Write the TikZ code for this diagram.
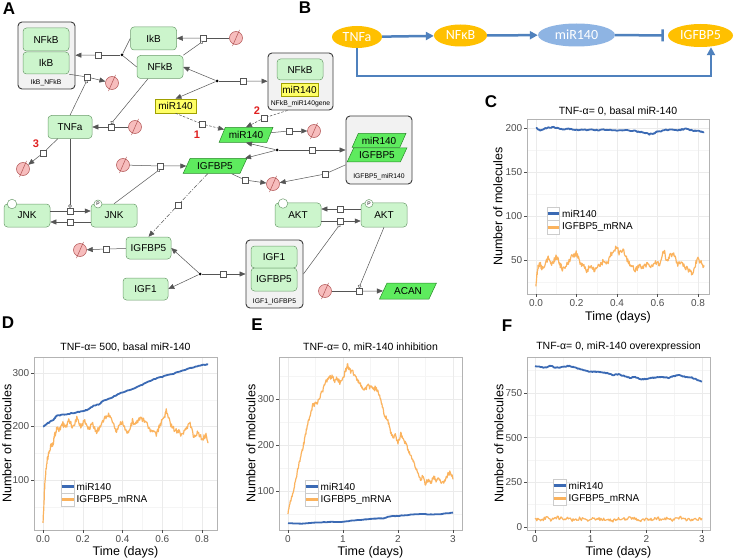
\documentclass[tikz,border=0pt]{standalone}
\usepackage{fontspec}
\setmainfont{Liberation Sans}
\newfontfamily\calib{Carlito}
\usetikzlibrary{arrows.meta,shapes.geometric,calc}
\definecolor{ngfill}{HTML}{CCF5CC}
\definecolor{ngdraw}{HTML}{6E9E6E}
\definecolor{cxfill}{HTML}{F2F2F2}
\definecolor{cxdraw}{HTML}{3C3C3C}
\definecolor{yfill}{HTML}{FFFF66}
\definecolor{ydraw}{HTML}{A0A000}
\definecolor{gfill}{HTML}{5EEB5E}
\definecolor{gdraw}{HTML}{2A8A2A}
\definecolor{degfill}{HTML}{F7BDBD}
\definecolor{degdraw}{HTML}{B05050}
\definecolor{lgray}{HTML}{555555}
\definecolor{borange}{HTML}{FFC000}
\definecolor{bblue}{HTML}{8EB4E3}
\definecolor{barr}{HTML}{4F81BD}
\definecolor{pblue}{HTML}{3B6AB4}
\definecolor{porange}{HTML}{FBB35E}
\definecolor{gridc}{HTML}{EBEBEB}
\definecolor{gridc2}{HTML}{F5F5F5}
\definecolor{framec}{HTML}{B3B3B3}
\definecolor{tickc}{HTML}{4D4D4D}
\definecolor{keyc}{HTML}{CCCCCC}
\definecolor{redl}{HTML}{E02020}
\newcommand\degr[2]{\node[degr] (#1) at (#2) {};
  \draw[degdraw, line width=0.5pt] ([shift={(-3.5,8)}]#1.center) -- ([shift={(3.5,-8)}]#1.center);}
\newcommand\noisy[5]{%
  \draw[#1] (#3,#4) \foreach \tA/\vA [remember=\tA as \tP (initially #3), remember=\vA as \vP (initially #4)] in {#5} {
    \foreach \kk in {1,2,3,4,5,6} { -- ({\tP+(\tA-\tP)*\kk/6},{\vP+(\vA-\vP)*\kk/6+#2*rand}) }
  };}
\begin{document}
\begin{tikzpicture}[x=1pt,y=-1pt,
  sp/.style={rounded corners=3.5pt, draw=ngdraw, fill=ngfill, minimum width=46pt, minimum height=23pt, inner sep=0pt, font=\fontsize{10}{10}\selectfont, line width=0.5pt},
  cx/.style={rounded corners=4pt, draw=cxdraw, fill=cxfill, line width=0.9pt, inner sep=0pt},
  cxl/.style={font=\fontsize{6.8}{7}\selectfont, inner sep=0pt},
  ym/.style={draw=ydraw, fill=yfill, minimum width=41pt, minimum height=14pt, inner sep=0pt, font=\fontsize{10}{10}\selectfont, line width=0.5pt},
  gs/.style={trapezium, trapezium left angle=55, trapezium right angle=125, trapezium stretches=true, draw=gdraw, fill=gfill, minimum width=54pt, minimum height=15pt, inner sep=0pt, font=\fontsize{10}{10}\selectfont, line width=0.5pt},
  proc/.style={draw=lgray, fill=white, minimum size=6pt, inner sep=0pt, line width=0.5pt},
  dotn/.style={circle, fill=black, minimum size=3pt, inner sep=0pt},
  degr/.style={circle, draw=degdraw, fill=degfill, minimum size=13pt, inner sep=0pt, line width=0.5pt},
  sv/.style={circle, draw=ngdraw, fill=white, minimum size=9.5pt, inner sep=0pt, line width=0.5pt},
  svp/.style={circle, draw=ngdraw, fill=white, minimum size=8pt, inner sep=0pt, line width=0.5pt, font=\fontsize{5}{5}\selectfont},
  fl/.style={draw=lgray, line width=0.5pt},
  fla/.style={fl, -{Triangle[length=6pt,width=5pt]}},
  cat/.style={fl, -{Circle[open, length=3.5pt, fill=white]}},
  dashA/.style={dash pattern=on 2.5pt off 1.5pt},
  dashB/.style={dash pattern=on 4pt off 1.5pt on 1pt off 1.5pt},
  rl/.style={text=redl, font=\bfseries\fontsize{11}{11}\selectfont, inner sep=0pt},
  plet/.style={font=\bfseries\fontsize{17}{17}\selectfont, inner sep=0pt},
  bell/.style={ellipse, draw=none, text=white, inner sep=0pt, font=\calib\fontsize{14}{14}\selectfont},
  barw/.style={draw=barr, line width=2.5pt, -{Triangle[length=8pt,width=8pt]}},
  gridM/.style={draw=gridc, line width=0.5pt},
  gridm/.style={draw=gridc2, line width=0.35pt},
  frm/.style={draw=framec, line width=0.6pt},
  tk/.style={draw=tickc, line width=0.5pt},
  tl/.style={font=\fontsize{10}{10}\selectfont, text=tickc, inner sep=0pt},
  ttl/.style={font=\fontsize{10.5}{11}\selectfont, inner sep=0pt},
  axt/.style={font=\fontsize{12.5}{13}\selectfont, inner sep=0pt},
  lgt/.style={font=\fontsize{10}{10}\selectfont, inner sep=0pt, anchor=west},
  lkey/.style={draw=keyc, line width=0.5pt, fill=white},
  cblue/.style={draw=pblue, line width=1.8pt, line join=round},
  corange/.style={draw=porange, line width=1.2pt, line join=round},
  lbl/.style={draw=pblue, line width=2.6pt},
  lor/.style={draw=porange, line width=2.6pt}
]
\useasboundingbox (0,0) rectangle (734,559);
\fill[white] (0,0) rectangle (734,559);
\pgfmathsetseed{4242}

% ---------------- panel letters
\node[plet] (lA) at (9,9) {A};
\node[plet] (lB) at (305,8) {B};
\node[plet] (lC) at (491,102) {C};
\node[plet] (lD) at (8,323) {D};
\node[plet] (lE) at (257,325) {E};
\node[plet] (lF) at (507,326) {F};

% ---------------- panel A nodes
\node[cx, minimum width=57pt, minimum height=67pt] (cx1) at (46.5,55.5) {};
\node[sp] (cx1N) at (46,39.5) {NFkB};
\node[sp, minimum height=22pt] (cx1I) at (46,63) {IkB};
\node[cxl] (cx1l) at (46,82.5) {IkB\_NFkB};

\node[sp] (IkB) at (153.5,38.5) {IkB};
\node[sp] (NFkB) at (160,67) {NFkB};
\node[sp, minimum width=44pt] (TNFa) at (70,127) {TNFa};

\node[cx, minimum width=65pt, minimum height=57pt] (cx2) at (300.5,81.5) {};
\node[sp, minimum height=21pt] (cx2N) at (300,69.5) {NFkB};
\node[ym, minimum width=37pt, minimum height=13pt] (cx2m) at (299.5,89.5) {miR140};
\node[cxl] (cx2l) at (300.5,103.5) {NFkB\_miR140gene};

\node[ym] (ymiR) at (175.5,106) {miR140};
\node[gs] (gmiR) at (246,135) {miR140};
\node[gs, minimum width=64pt] (gIGF) at (215,166) {IGFBP5};

\node[cx, minimum width=66pt, minimum height=68pt] (cx3) at (379,150) {};
\node[gs, minimum width=54pt, minimum height=14pt] (cx3m) at (379,140.5) {miR140};
\node[gs, minimum width=60pt, minimum height=14pt] (cx3i) at (377,155) {IGFBP5};
\node[cxl] (cx3l) at (379,177) {IGFBP5\_miR140};

\node[sp] (JNK) at (27,215.5) {JNK};
\node[sp] (JNKP) at (114,215.5) {JNK};
\node[sv] (JNKs) at (12,204) {};
\node[svp] (JNKPs) at (98,204) {P};
\node[sp, minimum width=45pt, minimum height=22pt] (IGBp) at (148.5,248) {IGFBP5};
\node[sp, minimum width=45pt, minimum height=22pt] (IGF1) at (145.5,289) {IGF1};

\node[cx, minimum width=57pt, minimum height=68pt] (cx4) at (274.5,274) {};
\node[sp, minimum height=22pt] (cx4a) at (274,257) {IGF1};
\node[sp, minimum height=23pt] (cx4b) at (274,279.5) {IGFBP5};
\node[cxl] (cx4l) at (274.5,301.5) {IGF1\_IGFBP5};

\node[sp, minimum height=24pt] (AKT) at (298,215) {AKT};
\node[sp, minimum height=24pt] (AKTP) at (384,215) {AKT};
\node[sv] (AKTs) at (283,203.5) {};
\node[svp] (AKTPs) at (369,203.5) {P};
\node[gs, minimum width=57pt, minimum height=16pt] (ACAN) at (408,291) {ACAN};

% degradation symbols
\degr{d1}{236,38}
\degr{d2}{112,83}
\degr{d3}{135,127}
\degr{d4}{23,169}
\degr{d5}{314,131}
\degr{d6}{123,165}
\degr{d7}{273,184}
\degr{d8}{80,250}
\degr{d9}{325,291}

% process nodes
\node[proc] (p1) at (203,38) {};
\node[proc] (p2) at (98,55) {};
\node[proc] (p3) at (87,77) {};
\node[proc] (p4) at (111,127) {};
\node[proc] (p5) at (43,153) {};
\node[proc] (p6) at (243,81) {};
\node[proc] (p7) at (202,124) {};
\node[proc] (p8) at (264,118) {};
\node[proc] (p9) at (289,131) {};
\node[proc] (p10) at (312,150) {};
\node[proc] (p11) at (160,166) {};
\node[proc] (p12) at (245,180) {};
\node[proc] (p13) at (325,174) {};
\node[proc] (p14) at (178,205) {};
\node[proc] (p15) at (70,211) {};
\node[proc] (p16) at (70,222) {};
\node[proc] (p17) at (106,249) {};
\node[proc] (p18) at (223,274) {};
\node[proc] (p19) at (340,209) {};
\node[proc] (p20) at (340,221) {};
\node[proc] (p21) at (359,291) {};
\node[dotn] (dot1) at (122,55) {};
\node[dotn] (dot2) at (217,81) {};
\node[dotn] (dot3) at (277,150) {};
\node[dotn] (dot4) at (200,274) {};

% connectors
\draw[fl] (d1) -- (p1); \draw[fla] (p1) -- (IkB);
\draw[cat] (NFkB.north east) -- (p1.south);
\draw[fl] (IkB.west) -- (dot1); \draw[fl] (NFkB.west) -- (dot1);
\draw[fl] (dot1) -- (p2); \draw[fla] (p2) -- (cx1);
\draw[fl] (cx1I.south east) -- (p3); \draw[fla] (p3) -- (d2);
\draw[cat] (TNFa.north) -- (p3.south);
\draw[fl] (d3) -- (p4); \draw[fla] (p4) -- (TNFa);
\draw[cat] ([xshift=-12pt]NFkB.south) -- (p4.north);
\draw[fl] (TNFa) -- (p5); \draw[fla] (p5) -- (d4);
\draw[fla] (dot2) -- (NFkB.east); \draw[fla] (dot2) -- (ymiR.north);
\draw[fl] (dot2) -- (p6); \draw[fla] (p6) -- (cx2);
\draw[fl, dashA] (ymiR.south) -- (p7); \draw[fla, dashA] (p7) -- (gmiR);
\draw[fl, dashA] ([xshift=-13pt]cx2.south) -- (p8); \draw[fla, dashA] (p8) -- (gmiR.north);
\draw[fl] (gmiR) -- (p9); \draw[fla] (p9) -- (d5);
\draw[fla] (dot3) -- (gmiR.south); \draw[fla] (dot3) -- (gIGF);
\draw[fl] (dot3) -- (p10); \draw[fla] (p10) -- (cx3);
\draw[fl] (d6) -- (p11); \draw[fla] (p11) -- (gIGF);
\draw[cat] (JNKP.north) -- (p11.south);
\draw[fl] (gIGF) -- (p12); \draw[fla] (p12) -- (d7);
\draw[fl] (cx3) -- (p13); \draw[fla] (p13) -- (d7);
\draw[fl, dashB] (gIGF) -- (p14); \draw[fla, dashB] (p14) -- (IGBp.north);
\draw[fl] (p15 -| JNK.east) -- (p15); \draw[fla] (p15) -- (p15 -| JNKP.west);
\draw[cat] (TNFa.south) -- (p15.north);
\draw[fl] (p16 -| JNKP.west) -- (p16); \draw[fla] (p16) -- (p16 -| JNK.east);
\draw[fl] (IGBp) -- (p17); \draw[fla] (p17) -- (d8);
\draw[fla] (dot4) -- (IGBp.east); \draw[fla] (dot4) -- (IGF1.east);
\draw[fl] (dot4) -- (p18); \draw[fla] (p18) -- (cx4);
\draw[fl] (p19 -| AKTP.west) -- (p19); \draw[fla] (p19) -- (p19 -| AKT.east);
\draw[fl] (p20 -| AKT.east) -- (p20); \draw[fla] (p20) -- (p20 -| AKTP.west);
\draw[cat] (cx4.east) -- (p20.south);
\draw[fl] (d9) -- (p21); \draw[fla] (p21) -- (ACAN);
\draw[cat] (AKTP.south) -- (p21.north);
\node[rl] (n1) at (197,135) {1};
\node[rl] (n2) at (257,111) {2};
\node[rl] (n3) at (36,144) {3};

% ---------------- panel B
\node[bell, fill=borange, minimum width=50pt, minimum height=22pt] (bT) at (357,37) {TNFa};
\node[bell, fill=borange, minimum width=53pt, minimum height=22pt] (bN) at (460.5,35.5) {NFκB};
\node[bell, fill=bblue, minimum width=77pt, minimum height=23pt] (bM) at (576.5,35) {miR140};
\node[bell, fill=borange, minimum width=65pt, minimum height=23pt] (bI) at (700.5,35.5) {IGFBP5};
\draw[barw] (bT) -- (bN);
\draw[barw] (bN) -- (bM);
\draw[draw=barr, line width=2.5pt, -{Bar[width=12pt]}, shorten >=4pt] (bM) -- (bI);
\coordinate (bk) at (711,76);
\draw[barw] (bT.south) |- (bk) -- (bk |- bI.south);

% ---------------- panel C
\fill[white] (527,119) rectangle (709,294);
\foreach \g in {556.25,596.75,637.25,677.75} \draw[gridm] (\g,119) -- (\g,294);
\foreach \g in {282,238,194,150} \draw[gridm] (527,\g) -- (709,\g);
\foreach \g in {536,576.5,617,657.5,698} \draw[gridM] (\g,119) -- (\g,294);
\foreach \g in {260,216,172,128} \draw[gridM] (527,\g) -- (709,\g);
\begin{scope}
\clip (527,119) rectangle (709,294);
\begin{scope}[shift={(536,304)}, xscale=202.5, yscale=-0.88]
\noisy{corange}{3}{0}{20}{0.005/35, 0.01/42, 0.02/46, 0.03/40, 0.045/44, 0.06/52, 0.075/44, 0.09/50, 0.1/55, 0.115/46, 0.13/40, 0.15/44, 0.17/52, 0.19/56, 0.2/58, 0.215/48, 0.23/44, 0.25/38, 0.27/44, 0.29/38, 0.31/43, 0.33/48, 0.35/45, 0.37/56, 0.39/62, 0.4/66, 0.41/58, 0.43/62, 0.45/50, 0.47/44, 0.49/38, 0.51/44, 0.53/40, 0.55/47, 0.57/43, 0.59/47, 0.61/44, 0.63/62, 0.645/50, 0.66/54, 0.68/57, 0.7/45, 0.72/48, 0.74/41, 0.76/38, 0.77/33, 0.785/44, 0.8/52, 0.815/47, 0.83/42}
\noisy{cblue}{0.7}{0}{200}{0.02/197, 0.05/200, 0.08/201, 0.1/200.5, 0.13/198, 0.16/199, 0.2/198, 0.25/198, 0.3/197.5, 0.35/198, 0.4/197, 0.45/197.5, 0.5/196, 0.53/195, 0.56/193, 0.58/193.5, 0.6/196, 0.65/198, 0.7/197.5, 0.74/199, 0.78/197, 0.81/196, 0.83/195}
\end{scope}
\end{scope}
\draw[frm] (527,119) rectangle (709,294);
\foreach \g/\l [count=\i] in {536/0.0,576.5/0.2,617/0.4,657.5/0.6,698/0.8} {\draw[tk] (\g,294) -- (\g,297); \node[tl, anchor=north] (Ctx\i) at (\g,299) {\l};}
\foreach \g/\l [count=\i] in {260/50,216/100,172/150,128/200} {\draw[tk] (524,\g) -- (527,\g); \node[tl, anchor=east] (Cty\i) at (522.5,\g) {\l};}
\node[ttl] (Ct) at (618,111) {TNF-α= 0, basal miR-140};
\node[axt] (Cxl) at (618,317) {Time (days)};
\node[axt, rotate=90] (Cyl) at (498,206.5) {Number of molecules};
\draw[lkey] (547,207) rectangle (559.5,220.5);
\draw[lkey] (547,220.5) rectangle (559.5,234);
\draw[lbl] (547.5,213.75) -- (559,213.75);
\draw[lor] (547.5,227.25) -- (559,227.25);
\node[lgt] (Cl1) at (562,214) {miR140};
\node[lgt] (Cl2) at (562,227.5) {IGFBP5\_mRNA};

% ---------------- panel D
\fill[white] (34,357) rectangle (217,530);
\foreach \g in {62.875,102.625,142.375,182.125} \draw[gridm] (\g,357) -- (\g,530);
\foreach \g in {506.75,453.25,399.75} \draw[gridm] (34,\g) -- (217,\g);
\foreach \g in {43,82.75,122.5,162.25,202} \draw[gridM] (\g,357) -- (\g,530);
\foreach \g in {480,426.5,373} \draw[gridM] (34,\g) -- (217,\g);
\begin{scope}
\clip (34,357) rectangle (217,530);
\begin{scope}[shift={(43,533.5)}, xscale=198.75, yscale=-0.535]
\noisy{corange}{5}{0}{20}{0.005/60, 0.01/100, 0.02/135, 0.03/150, 0.04/165, 0.05/168, 0.06/185, 0.07/195, 0.08/193, 0.09/200, 0.1/205, 0.11/198, 0.13/210, 0.15/200, 0.17/215, 0.19/200, 0.21/210, 0.23/195, 0.25/205, 0.27/190, 0.29/200, 0.31/215, 0.33/225, 0.35/205, 0.37/190, 0.39/210, 0.41/200, 0.43/185, 0.45/210, 0.47/205, 0.49/215, 0.51/210, 0.53/200, 0.55/190, 0.57/185, 0.59/205, 0.61/215, 0.62/232, 0.64/205, 0.66/195, 0.68/190, 0.7/185, 0.72/195, 0.74/205, 0.76/180, 0.78/190, 0.8/175, 0.82/185, 0.83/170}
\noisy{cblue}{0.8}{0}{200}{0.02/205, 0.05/212, 0.07/220, 0.1/222, 0.15/225, 0.2/229, 0.23/232, 0.25/238, 0.28/241, 0.3/247, 0.35/255, 0.4/264, 0.45/270, 0.5/278, 0.55/287, 0.6/293, 0.65/298, 0.7/304, 0.75/310, 0.8/315, 0.83/316}
\end{scope}
\end{scope}
\draw[frm] (34,357) rectangle (217,530);
\foreach \g/\l [count=\i] in {43/0.0,82.75/0.2,122.5/0.4,162.25/0.6,202/0.8} {\draw[tk] (\g,530) -- (\g,533); \node[tl, anchor=north] (Dtx\i) at (\g,535) {\l};}
\foreach \g/\l [count=\i] in {480/100,426.5/200,373/300} {\draw[tk] (31,\g) -- (34,\g); \node[tl, anchor=east] (Dty\i) at (29.5,\g) {\l};}
\node[ttl] (Dt) at (125.5,347) {TNF-α= 500, basal miR-140};
\node[axt] (Dxl) at (125.5,552) {Time (days)};
\node[axt, rotate=90] (Dyl) at (7,443.5) {Number of molecules};
\draw[lkey] (61,480) rectangle (74,493);
\draw[lkey] (61,493) rectangle (74,506);
\draw[lbl] (61.5,486.5) -- (73.5,486.5);
\draw[lor] (61.5,499.5) -- (73.5,499.5);
\node[lgt] (Dl1) at (76.5,487) {miR140};
\node[lgt] (Dl2) at (76.5,500) {IGFBP5\_mRNA};

% ---------------- panel E
\fill[white] (279,357) rectangle (462,530);
\foreach \g in {315.5,370.5,425.5} \draw[gridm] (\g,357) -- (\g,530);
\foreach \g in {514,468,422,376} \draw[gridm] (279,\g) -- (462,\g);
\foreach \g in {288,343,398,453} \draw[gridM] (\g,357) -- (\g,530);
\foreach \g in {491,445,399} \draw[gridM] (279,\g) -- (462,\g);
\begin{scope}
\clip (279,357) rectangle (462,530);
\begin{scope}[shift={(288,537)}, xscale=55, yscale=-0.46]
\noisy{corange}{5}{0}{50}{0.05/80, 0.1/100, 0.15/130, 0.2/160, 0.25/185, 0.3/210, 0.35/240, 0.4/265, 0.45/285, 0.5/290, 0.55/295, 0.6/310, 0.65/325, 0.7/340, 0.75/345, 0.8/350, 0.85/340, 0.9/345, 0.95/335, 1.0/345, 1.05/362, 1.08/375, 1.12/362, 1.18/357, 1.25/345, 1.3/335, 1.35/325, 1.4/320, 1.45/330, 1.5/325, 1.55/320, 1.6/325, 1.65/310, 1.7/290, 1.75/265, 1.8/260, 1.85/235, 1.9/215, 1.95/220, 2.0/205, 2.05/225, 2.1/215, 2.15/200, 2.2/185, 2.25/170, 2.3/160, 2.35/140, 2.4/125, 2.45/130, 2.5/115, 2.55/125, 2.6/120, 2.65/130, 2.7/122, 2.75/128, 2.8/115, 2.85/125, 2.9/135, 2.95/140, 3.0/128}
\noisy{cblue}{0.5}{0}{30}{0.2/29, 0.5/31, 0.8/33, 1.0/33, 1.2/36, 1.4/38, 1.6/40, 1.75/41, 1.85/45, 2.0/46, 2.2/48, 2.4/50, 2.6/49, 2.8/50, 3.0/53}
\end{scope}
\end{scope}
\draw[frm] (279,357) rectangle (462,530);
\foreach \g/\l [count=\i] in {288/0,343/1,398/2,453/3} {\draw[tk] (\g,530) -- (\g,533); \node[tl, anchor=north] (Etx\i) at (\g,535) {\l};}
\foreach \g/\l [count=\i] in {491/100,445/200,399/300} {\draw[tk] (276,\g) -- (279,\g); \node[tl, anchor=east] (Ety\i) at (274.5,\g) {\l};}
\node[ttl] (Et) at (370.5,347) {TNF-α= 0, miR-140 inhibition};
\node[axt] (Exl) at (370.5,552) {Time (days)};
\node[axt, rotate=90] (Eyl) at (251,443.5) {Number of molecules};
\draw[lkey] (305,480) rectangle (318,493);
\draw[lkey] (305,493) rectangle (318,506);
\draw[lbl] (305.5,486.5) -- (317.5,486.5);
\draw[lor] (305.5,499.5) -- (317.5,499.5);
\node[lgt] (El1) at (320.5,486.5) {miR140};
\node[lgt] (El2) at (320.5,500) {IGFBP5\_mRNA};

% ---------------- panel F
\fill[white] (527,357) rectangle (710,530);
\foreach \g in {562.83,618.5,674.17} \draw[gridm] (\g,357) -- (\g,530);
\foreach \g in {504.67,460,415.33,370.67} \draw[gridm] (527,\g) -- (710,\g);
\foreach \g in {535,590.67,646.33,702} \draw[gridM] (\g,357) -- (\g,530);
\foreach \g in {527,482.33,437.67,393} \draw[gridM] (527,\g) -- (710,\g);
\begin{scope}
\clip (527,357) rectangle (710,530);
\begin{scope}[shift={(535,527)}, xscale=55.67, yscale=-0.17867]
\noisy{corange}{10}{0}{45}{0.1/35, 0.2/50, 0.3/40, 0.4/55, 0.5/45, 0.6/50, 0.7/38, 0.8/48, 0.9/42, 1.0/40, 1.1/50, 1.2/42, 1.3/45, 1.4/38, 1.5/48, 1.6/45, 1.7/55, 1.8/42, 1.9/32, 2.0/45, 2.1/42, 2.2/48, 2.3/40, 2.4/50, 2.5/38, 2.6/55, 2.7/45, 2.8/40, 2.9/48, 3.0/45}
\noisy{cblue}{2.5}{0}{900}{0.1/895, 0.2/893, 0.27/905, 0.35/893, 0.5/895, 0.6/902, 0.7/895, 0.8/885, 0.9/875, 1.0/870, 1.1/868, 1.2/865, 1.3/862, 1.4/850, 1.5/855, 1.6/845, 1.7/835, 1.8/840, 1.9/825, 2.0/830, 2.1/835, 2.2/838, 2.3/840, 2.4/835, 2.5/845, 2.6/850, 2.7/840, 2.8/838, 2.9/825, 3.0/815}
\end{scope}
\end{scope}
\draw[frm] (527,357) rectangle (710,530);
\foreach \g/\l [count=\i] in {535/0,590.67/1,646.33/2,702/3} {\draw[tk] (\g,530) -- (\g,533); \node[tl, anchor=north] (Ftx\i) at (\g,535) {\l};}
\foreach \g/\l [count=\i] in {527/0,482.33/250,437.67/500,393/750} {\draw[tk] (524,\g) -- (527,\g); \node[tl, anchor=east] (Fty\i) at (522.5,\g) {\l};}
\node[ttl] (Ft) at (618.5,347) {TNF-α= 0, miR-140 overexpression};
\node[axt] (Fxl) at (618.5,552) {Time (days)};
\node[axt, rotate=90] (Fyl) at (499,443.5) {Number of molecules};
\draw[lkey] (553,479) rectangle (566,492);
\draw[lkey] (553,492) rectangle (566,505);
\draw[lbl] (553.5,485.5) -- (565.5,485.5);
\draw[lor] (553.5,498.5) -- (565.5,498.5);
\node[lgt] (Fl1) at (568.5,485.5) {miR140};
\node[lgt] (Fl2) at (568.5,499) {IGFBP5\_mRNA};
\end{tikzpicture}
\end{document}
